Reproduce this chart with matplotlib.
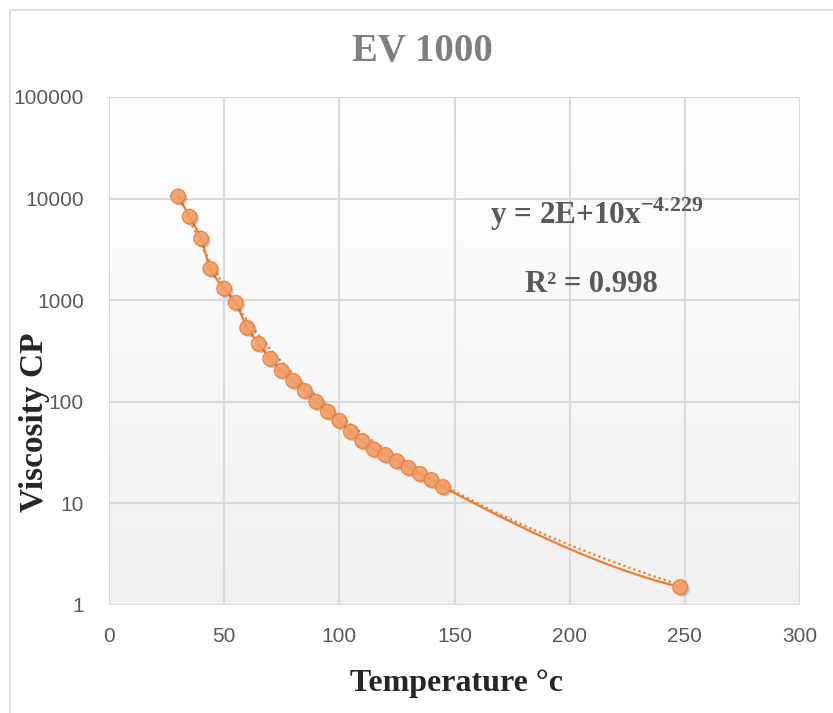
import numpy as np
import matplotlib
matplotlib.use("Agg")
import matplotlib.pyplot as plt
import matplotlib.patheffects as pe
from matplotlib.patches import Rectangle
from matplotlib.ticker import FixedLocator, FixedFormatter, NullLocator

# data
temperature = [30, 35, 40, 44, 50, 55, 60, 65, 70, 75, 80, 85, 90, 95, 100,
               105, 110, 115, 120, 125, 130, 135, 140, 145, 248]
viscosity = [10500, 6630, 4035, 2040, 1300, 945, 535, 372, 265, 202, 161, 128,
             100, 80, 65, 50.6, 41, 34, 30, 26, 22.4, 19.5, 17, 14.5, 1.5]
# power trendline y = a * x^b (a is shown rounded as 2E+10 in the chart)
trend_factor = 2.1e10
trend_exponent = -4.229
x_ticks = [0, 50, 100, 150, 200, 250, 300]
y_ticks = [1, 10, 100, 1000, 10000, 100000]
y_tick_labels = ["1", "10", "100", "1000", "10000", "100000"]
title = "EV 1000"
eq_text = "y = 2E+10x$^{\\mathbf{-4.229}}$"
r2_text = "R² = 0.998"

orange = "#ED7D31"
serif = ["Liberation Serif", "DejaVu Serif"]
sans = ["Liberation Sans", "DejaVu Sans"]
plt.rcParams["mathtext.fontset"] = "custom"
plt.rcParams["mathtext.bf"] = "Liberation Serif:bold"
plt.rcParams["mathtext.rm"] = "Liberation Serif:bold"


def pchip(x, y, xs):
    # monotone cubic hermite (Fritsch-Butland), used for the smoothed line
    x = np.asarray(x, float)
    y = np.asarray(y, float)
    h = np.diff(x)
    d = np.diff(y) / h
    m = np.zeros_like(y)
    for i in range(1, len(x) - 1):
        if d[i - 1] * d[i] > 0:
            w1 = 2 * h[i] + h[i - 1]
            w2 = h[i] + 2 * h[i - 1]
            m[i] = (w1 + w2) / (w1 / d[i - 1] + w2 / d[i])
    m[0] = ((2 * h[0] + h[1]) * d[0] - h[0] * d[1]) / (h[0] + h[1])
    m[-1] = ((2 * h[-1] + h[-2]) * d[-1] - h[-1] * d[-2]) / (h[-1] + h[-2])
    idx = np.clip(np.searchsorted(x, xs) - 1, 0, len(x) - 2)
    t = (xs - x[idx]) / h[idx]
    h00 = 2 * t**3 - 3 * t**2 + 1
    h10 = t**3 - 2 * t**2 + t
    h01 = -2 * t**3 + 3 * t**2
    h11 = t**3 - t**2
    return (h00 * y[idx] + h10 * h[idx] * m[idx] + h01 * y[idx + 1]
            + h11 * h[idx] * m[idx + 1])


fig = plt.figure(figsize=(8.33, 7.13), dpi=100)
fig.patches.append(Rectangle((10 / 833, -0.05), 1.2, 1 - 10 / 713 + 0.05,
                             transform=fig.transFigure, fill=False,
                             edgecolor="#d9d9d9", linewidth=1.2))
ax = fig.add_axes([109 / 833, 1 - 605 / 713, (800 - 109) / 833, (605 - 97) / 713])
ax.set_yscale("log")
ax.set_xlim(0, 300)
ax.set_ylim(1, 100000)

# light gradient background of the plot area
grad = np.linspace(1.0, 0.945, 256).reshape(-1, 1)
ax.imshow(np.dstack([grad, grad, grad]), extent=(0, 1, 0, 1),
          transform=ax.transAxes, aspect="auto", zorder=0, interpolation="bilinear")

ax.xaxis.set_major_locator(FixedLocator(x_ticks))
ax.yaxis.set_major_locator(FixedLocator(y_ticks))
ax.yaxis.set_major_formatter(FixedFormatter(y_tick_labels))
ax.yaxis.set_minor_locator(NullLocator())
ax.grid(True, color="#d9d9d9", linewidth=1.5, zorder=1)
ax.set_axisbelow(True)
for s in ax.spines.values():
    s.set_visible(False)
ax.tick_params(length=0, labelsize=15, labelcolor="#595959")
ax.tick_params(axis="y", pad=18)
ax.tick_params(axis="x", pad=16)
for lab in ax.get_xticklabels() + ax.get_yticklabels():
    lab.set_family(sans)

# dotted power trendline
xt = np.linspace(min(temperature), max(temperature), 300)
ax.plot(xt, trend_factor * xt**trend_exponent, color=orange, linewidth=1.6,
        linestyle=(0, (1, 1.4)), zorder=3)

# smoothed line through the points
xs = np.linspace(min(temperature), max(temperature), 600)
ys = 10 ** pchip(temperature, np.log10(viscosity), xs)
ax.plot(xs, ys, color=orange, linewidth=1.6, zorder=4)

ax.plot(temperature, viscosity, linestyle="none", marker="o", markersize=10.5,
        markerfacecolor="#F4A06A", markeredgecolor=orange, markeredgewidth=1,
        alpha=0.88, zorder=5,
        path_effects=[pe.SimplePatchShadow(offset=(1.5, -1.5), alpha=0.25),
                      pe.Normal()])

fig.text(422 / 833, 1 - 52 / 713, title, family=serif,
         fontweight="bold", fontsize=28, color="#7f7f7f", ha="center", va="center")
fig.text(597 / 833, 1 - 214 / 713, eq_text, family=serif, fontweight="bold",
         fontsize=22.5, color="#595959", ha="center", va="center")
fig.text(591 / 833, 1 - 285 / 713, r2_text, family=serif, fontweight="bold",
         fontsize=22, color="#595959", ha="center", va="center")
fig.text(457 / 833, 1 - 684 / 713, "Temperature °c", family=serif,
         fontweight="bold", fontsize=23, color="#262626", ha="center", va="center")
fig.text(35 / 833, 1 - 422 / 713, "Viscosity CP", family=serif,
         fontweight="bold", fontsize=24, color="#262626", ha="center",
         va="center", rotation=90)

fig.savefig("out.png", dpi=100)
